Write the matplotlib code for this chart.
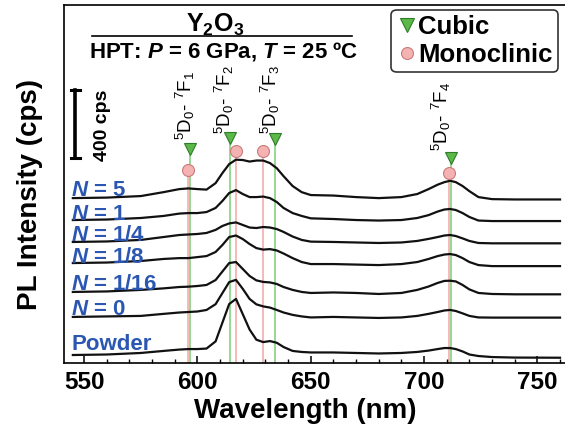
import matplotlib
matplotlib.use('Agg')
import matplotlib.pyplot as plt
import numpy as np
from matplotlib.lines import Line2D

plt.rcParams['font.family'] = ['Liberation Sans', 'DejaVu Sans']
plt.rcParams['mathtext.fontset'] = 'custom'
plt.rcParams['mathtext.rm'] = 'Liberation Sans:bold'
plt.rcParams['mathtext.it'] = 'Liberation Sans:italic:bold'
plt.rcParams['mathtext.bf'] = 'Liberation Sans:bold'
plt.rcParams['mathtext.sf'] = 'Liberation Sans'

# ---------------- data ----------------
wavelength = [545, 560, 575, 585, 592, 596, 600, 604, 608, 611, 614, 617, 620, 623,
              626, 629, 632, 635, 638, 642, 646, 650, 660, 670, 680, 690, 697, 702,
              706, 709, 711.5, 714, 717, 720, 724, 730, 740, 760]

sample_labels = ['$N$ = 5', '$N$ = 1', '$N$ = 1/4', '$N$ = 1/8', '$N$ = 1/16', '$N$ = 0', 'Powder']
offsets = [970, 841, 712, 588, 418, 271, 47]   # cps, vertical stacking

int_N5 = [0, 3, 12, 35, 53, 57, 53, 50, 88, 147, 200, 226, 224, 215, 221, 221, 206, 176,
          129, 71, 35, 18, 15, 6, 0, 6, 24, 53, 79, 94, 102, 94, 71, 41, 6, -6, -8, -8]
int_N1 = [0, 3, 12, 24, 38, 41, 41, 47, 71, 112, 159, 176, 153, 135, 135, 138, 129, 106,
          71, 41, 24, 10, 6, 0, -3, 0, 12, 29, 50, 62, 65, 59, 41, 18, -3, -6, -6, -6]
int_N1_4 = [0, 3, 12, 29, 41, 44, 47, 53, 71, 94, 109, 115, 100, 85, 82, 88, 85, 76,
            59, 32, 12, 2, 0, -3, -6, -3, 6, 18, 29, 38, 41, 35, 21, 6, -6, -8, -8, -8]
int_N1_8 = [0, 3, 12, 24, 29, 29, 35, 41, 65, 106, 153, 162, 141, 112, 88, 79, 82, 74,
            56, 29, 6, -6, -6, -9, -12, -6, 6, 24, 41, 50, 53, 47, 29, 6, -12, -18, -18, -18]
int_N1_16 = [0, 3, 12, 21, 29, 31, 35, 41, 70, 120, 170, 176, 135, 94, 68, 59, 56, 47,
             29, 12, 0, -6, -3, -6, -12, -6, 12, 32, 53, 65, 66, 62, 41, 15, -6, -12, -14, -14]
int_N0 = [0, 3, 6, 18, 26, 29, 32, 41, 75, 140, 205, 218, 165, 106, 74, 62, 55, 41,
          26, 12, 3, -3, 0, -3, -6, -3, 6, 18, 29, 38, 41, 35, 21, 6, -3, -4, -4, -4]
int_powder = [0, 3, 12, 24, 32, 35, 35, 38, 80, 190, 300, 330, 240, 150, 90, 76, 82, 72,
              47, 24, 18, 15, 15, 12, 9, 12, 18, 26, 35, 41, 41, 35, 21, 3, -6, -12, -15, -16]
spectra = [int_N5, int_N1, int_N1_4, int_N1_8, int_N1_16, int_N0, int_powder]

# Eu3+ transitions: monoclinic (circles) and cubic (triangles)
trans_labels = [r'$^{\mathsf{5}}\mathsf{D}_{\mathsf{0}}$- $^{\mathsf{7}}\mathsf{F}_{\mathsf{1}}$',
                r'$^{\mathsf{5}}\mathsf{D}_{\mathsf{0}}$- $^{\mathsf{7}}\mathsf{F}_{\mathsf{2}}$',
                r'$^{\mathsf{5}}\mathsf{D}_{\mathsf{0}}$- $^{\mathsf{7}}\mathsf{F}_{\mathsf{3}}$',
                r'$^{\mathsf{5}}\mathsf{D}_{\mathsf{0}}$- $^{\mathsf{7}}\mathsf{F}_{\mathsf{4}}$']
trans_label_x = [594.5, 611.7, 632.0, 707.5]
trans_label_y = [1312, 1350, 1350, 1247]
mono_x = [595.8, 617.0, 628.8, 711.2]
mono_y = [1135, 1249, 1249, 1119]
cubic_x = [596.6, 614.3, 634.0, 711.9]
cubic_y = [1259, 1326, 1316, 1204]

scale_bar_cps = 400
xticks = [550, 600, 650, 700, 750]

# ---------------- figure ----------------
fig = plt.figure(figsize=(5.65, 4.4), dpi=100)
ax = fig.add_axes([0.11327, 0.175, 0.88673, 0.81364])
ax.set_xlim(541.1, 762.2)
ax.set_ylim(0, 2106)

green_line = '#8fd68a'
pink_line = '#f6b3b3'
green_fill = '#5cb848'
green_edge = '#2e7d2a'
pink_fill = '#f5b2b2'
pink_edge = '#c97a7a'
blue = '#2b57b3'

for x, y in zip(mono_x, mono_y):
    ax.plot([x, x], [0, y], color=pink_line, lw=1.3, zorder=1)
for x, y in zip(cubic_x, cubic_y):
    ax.plot([x, x], [0, y], color=green_line, lw=1.3, zorder=1)

for off, inten in zip(offsets, spectra):
    ax.plot(wavelength, off + np.array(inten), color='#111111', lw=1.6, zorder=3,
            solid_joinstyle='round')

ax.plot(mono_x, mono_y, 'o', ms=8.6, mfc=pink_fill, mec=pink_edge, mew=0.8, zorder=4)
ax.plot(cubic_x, cubic_y, 'v', ms=8.6, mfc=green_fill, mec=green_edge, mew=0.8, zorder=4)

for lab, x, y in zip(trans_labels, trans_label_x, trans_label_y):
    ax.text(x, y, lab, rotation=90, ha='center', va='bottom', fontsize=13.5,
            fontweight='normal', zorder=5)

# sample labels
label_y = [982, 841, 718, 588, 429, 282, 76]
for lab, y in zip(sample_labels, label_y):
    ax.text(544.2, y, lab, color=blue, fontsize=16, fontweight='bold', ha='left',
            va='baseline', zorder=5)

# scale bar
sb_x, sb_y0 = 546.0, 1206
ax.plot([sb_x, sb_x], [sb_y0, sb_y0 + scale_bar_cps], color='k', lw=2.6, zorder=5)
for yy in (sb_y0, sb_y0 + scale_bar_cps):
    ax.plot([sb_x - 2.0, sb_x + 2.0], [yy, yy], color='k', lw=2.2, zorder=5)
ax.text(558.2, 1400, '%d cps' % scale_bar_cps, rotation=90, ha='center', va='center',
        fontsize=14, fontweight='bold')

# title block
ax.text(0.301, 0.9246, r'Y$_{2}$O$_{3}$', transform=ax.transAxes, ha='center',
        va='baseline', fontsize=18, fontweight='bold')
ax.plot([0.0559, 0.5749], [0.9134, 0.9134], transform=ax.transAxes, color='k', lw=1.2)
ax.text(0.0499, 0.8547, r'HPT: $P$ = 6 GPa, $T$ = 25 ºC', transform=ax.transAxes,
        ha='left', va='baseline', fontsize=16, fontweight='bold')

# legend
handles = [Line2D([], [], marker='v', ls='none', ms=10, mfc=green_fill, mec=green_edge, mew=0.8),
           Line2D([], [], marker='o', ls='none', ms=8.6, mfc=pink_fill, mec=pink_edge, mew=0.8)]
leg = ax.legend(handles, ['Cubic', 'Monoclinic'], loc='upper right',
                bbox_to_anchor=(0.986, 0.986), borderaxespad=0,
                prop={'weight': 'bold', 'size': 18.5}, handletextpad=0.05,
                handlelength=0.8, borderpad=0.2, labelspacing=0.15,
                frameon=True, fancybox=True, edgecolor='#333333', framealpha=1)
leg.get_frame().set_linewidth(1.2)

# axes styling
for side in ('left', 'top', 'bottom'):
    ax.spines[side].set_linewidth(1.2)
ax.spines['right'].set_visible(False)
ax.set_yticks([])
ax.set_xticks(xticks)
ax.set_xticks(np.arange(550, 761, 10), minor=True)
ax.tick_params(axis='x', which='major', direction='in', length=5, width=1.1, pad=6,
               labelsize=17.5)
ax.tick_params(axis='x', which='minor', direction='in', length=3, width=1.0)
for t in ax.get_xticklabels():
    t.set_fontweight('bold')

ax.set_xlabel('Wavelength (nm)', fontsize=20, fontweight='bold', va='center')
ax.xaxis.set_label_coords(0.481, -0.134)
ax.set_ylabel('PL Intensity (cps)', fontsize=20, fontweight='bold', va='center')
ax.yaxis.set_label_coords(-0.068, 0.47)

fig.savefig('out.png', dpi=100)
